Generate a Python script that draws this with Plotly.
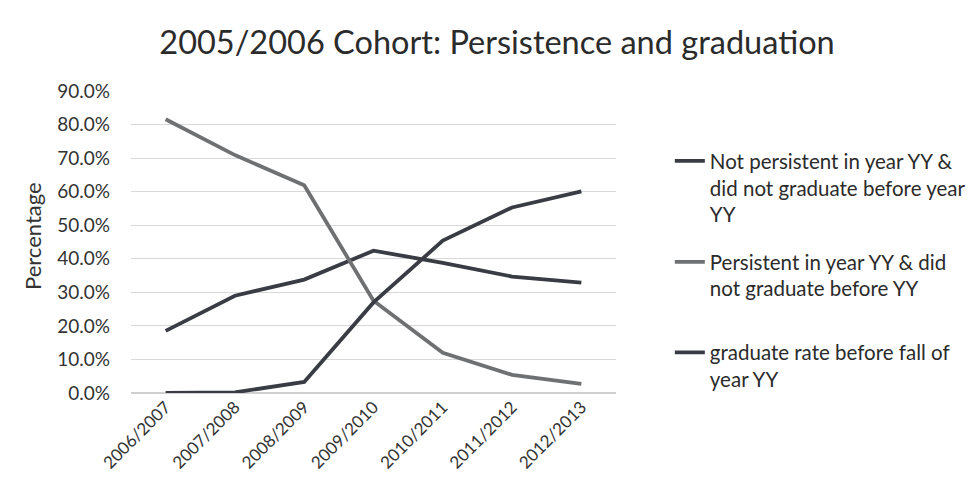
import plotly.graph_objects as go

categories = ["2006/2007", "2007/2008", "2008/2009", "2009/2010", "2010/2011", "2011/2012", "2012/2013"]
not_persistent = [18.5, 29.0, 33.8, 42.4, 38.8, 34.7, 32.9]
persistent = [81.6, 70.9, 61.9, 27.5, 12.0, 5.4, 2.7]
graduate = [0.0, 0.2, 3.3, 27.0, 45.4, 55.3, 60.1]
y_ticks = [0, 10, 20, 30, 40, 50, 60, 70, 80, 90]
y_tick_labels = ["0.0%", "10.0%", "20.0%", "30.0%", "40.0%", "50.0%", "60.0%", "70.0%", "80.0%", "90.0%"]

names = [
    "Not persistent in year YY &<br>did not graduate before year<br>YY",
    "Persistent in year YY & did<br>not graduate before YY",
    "graduate rate before fall of<br>year YY",
]
colors = ["#3a3c44", "#6e7072", "#3a3c44"]
legends = ["legend", "legend2", "legend3"]
font = "Lato, 'Open Sans', sans-serif"

fig = go.Figure()
for vals, name, col, lg in zip([not_persistent, persistent, graduate], names, colors, legends):
    fig.add_trace(go.Scatter(
        x=categories, y=vals, mode="lines", name=name,
        line=dict(color=col, width=3.8), legend=lg,
    ))

leg_common = dict(x=1.111, xanchor="left", yanchor="top", font=dict(size=20.5, color="#2b2b2b"),
                  valign="top", bgcolor="rgba(0,0,0,0)")

fig.update_layout(
    width=979, height=488,
    paper_bgcolor="white", plot_bgcolor="white",
    margin=dict(l=123, r=371, t=83, b=103),
    title=dict(text="2005/2006 Cohort: Persistence and graduation", x=0.4995, xanchor="center",
               y=0.93, yanchor="middle", font=dict(family=font, size=32.5, color="#2b2b2b")),
    font=dict(family=font, color="#333333"),
    showlegend=True,
    legend=dict(y=0.834, **leg_common),
    legend2=dict(y=0.50, **leg_common),
    legend3=dict(y=0.20, **leg_common),
    xaxis=dict(type="category", range=[-0.5, 6.5], tickangle=-45, tickfont=dict(size=17, color="#333"),
               showgrid=False, showline=False, ticks="", automargin=False),
    yaxis=dict(range=[0, 90], tickvals=y_ticks, ticktext=y_tick_labels, tickfont=dict(size=19, color="#333"),
               showgrid=True, gridcolor="#d8d8d8", gridwidth=1, zeroline=True, zerolinecolor="#d0d0d0",
               ticklabelstandoff=20, automargin=False),
    annotations=[dict(text="Percentage", xref="paper", yref="paper", x=(25 - 123) / 485, y=0.52,
                      xanchor="center", yanchor="middle", textangle=-90, showarrow=False,
                      font=dict(family=font, size=22, color="#333"))],
)

fig.write_html("out.html")
